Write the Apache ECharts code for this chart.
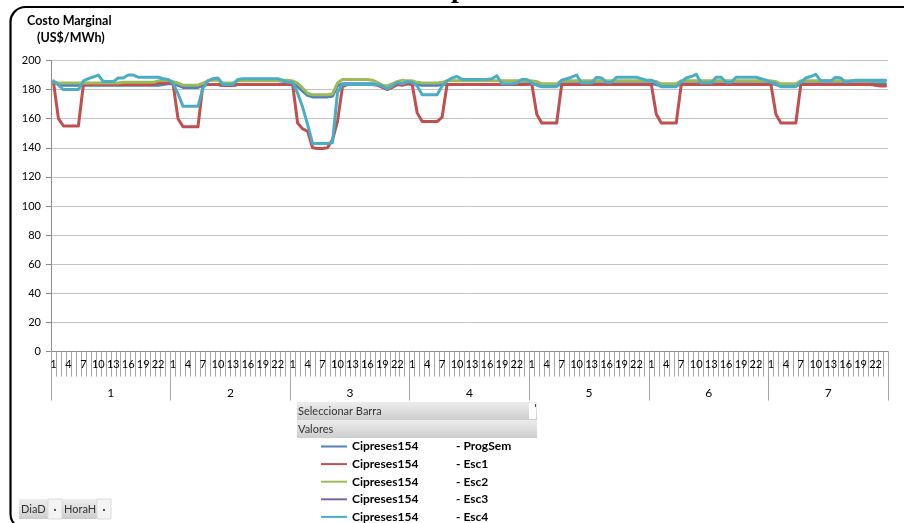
<!DOCTYPE html>
<html>
<head>
<meta charset="utf-8">
<script src="https://cdn.jsdelivr.net/npm/echarts@6/dist/echarts.min.js"></script>
<style>
  html, body { margin: 0; padding: 0; background: #ffffff; }
  #chart { width: 904px; height: 523px; }
</style>
</head>
<body>
<div id="chart"></div>
<script>
// Hour-of-day and day labels for the two-level category axis
const hours = ['1','2','3','4','5','6','7','8','9','10','11','12','13','14','15','16','17','18','19','20','21','22','23','24'];
const days = ['1','2','3','4','5','6','7'];

const seriesNames = ['Cipreses154 - ProgSem', 'Cipreses154 - Esc1', 'Cipreses154 - Esc2', 'Cipreses154 - Esc3', 'Cipreses154 - Esc4'];
const seriesColors = ['#4F81BD', '#C0504D', '#9BBB59', '#8064A2', '#4BACC6'];

// Marginal cost (US$/MWh), one row per day, 24 hourly values each
const progSem = [
  185,184,183,183,183,183,183,183,183,183,183,183,183,183,183,183,183,183,183,183,183,183,183.5,184,
  184,183,181.5,181.5,181.5,181.5,183,183.5,183.5,183.5,183,183,183,183.5,183.5,183.5,183.5,183.5,183.5,183.5,183.5,183.5,184,184,
  184.5,182,179,176,175,175,175,175,175.5,182.5,184,184,184,184,184,184,184,183.5,182,180.5,182,183.5,183.5,184,
  184,183.5,183,183,183,183,183.5,183.5,183.5,183.5,183.5,183.5,183.5,183.5,183.5,183.5,183.5,183.5,183.5,183.5,183.5,183.5,184,184,
  184,183.5,182.5,182.5,182.5,182.5,184,184,184,184,184,184,184,184,184,184,184,184,184,184,184,184,184,184,
  184,183.5,182.5,182.5,182.5,182.5,184,184,184,184,184,184,184,184,184,184,184,184,184,184,184,184,184,184,
  184,183.5,182.5,182.5,182.5,182.5,184,184,184,184,184,184,184,184,184,184,184,184,184,184,184,184,184,184
];
const esc1 = [
  185,160,155,155,155,155,183.5,183.5,183.5,183.5,183.5,183.5,183.5,183.5,183.5,183.5,183.5,183.5,183.5,183.5,183.5,184.5,184.5,184.5,
  184,160,154.5,154.5,154.5,154.5,183.5,183.5,183.5,183.5,182.8,182.8,182.8,183.5,183.5,183.5,183.5,183.5,183.5,183.5,183.5,183.5,183.5,183.5,
  183.5,157,153,151.5,140,139.5,139.5,140,145.5,158,182,183.5,183.5,183.5,183.5,183.5,183.5,183,181.5,180,181.5,183.5,183,184,
  183.5,164,158,158,158,158,161,183.5,183.5,183.5,183.5,183.5,183.5,183.5,183.5,183.5,183.5,183.5,183.5,183.5,183.5,183.5,183.5,183.5,
  184,163,157,157,157,157,183.5,183.5,183.5,183.5,183.5,183.5,183.5,183.5,183.5,183.5,183.5,183.5,183.5,183.5,183.5,183.5,183.5,183.5,
  183.5,163,157,157,157,157,183.5,183.5,183.5,183.5,183.5,183.5,183.5,183.5,183.5,183.5,183.5,183.5,183.5,183.5,183.5,183.5,183.5,183.5,
  183.5,163,157,157,157,157,183.5,183.5,183.5,183.5,183.5,183.5,183.5,183.5,183.5,183.5,183.5,183.5,183.5,183.5,183.5,183,182.5,182.5
];
const esc2 = [
  185,184.5,184.5,184.5,184.5,184.5,184.5,184.5,184.5,184.5,184.5,184.5,184.5,184.5,185,185,185,185,185,185,185,186,186.5,186.5,
  185.5,184.5,183,183,183,183,184.5,186,186.5,186.5,184.5,184.5,184.5,186,186,186,186,186,186,186,186,186,186.5,186.5,
  186,184.5,181,177.5,176.5,176.5,176.5,176.5,177,184.5,187,187,187,187,187,187,186.5,185,183,182.5,184,185.5,186.5,186,
  186,185,184.5,184.5,184.5,184.5,185,186,186,186,186,186,186,186,186,186,186,186,186,186,186,186,186,186,
  186,185.5,184,184,184,184,186,186,186,186,186,186,186,186,186,186,186,186,186,186,186,186,186,186,
  186,185.5,184,184,184,184,186,186,186,186,186,186,186,186,186,186,186,186,186,186,186,186,186,186,
  186,185.5,184,184,184,184,186,186,186,186,186,186,186,186,186,186,186,186,186,186,186,186,186,186
];
const esc3 = [];
const esc4 = [
  186,183,180,180,180,180,186,187.5,188.8,190,185.5,185.5,185.5,188,188,190,190,188.5,188.5,188.5,188.5,188.5,187.5,187,
  184.5,177,168.5,168.5,168.5,168.5,181,186,187.5,188,183.5,183.5,183.5,187,187.5,187.5,187.5,187.5,187.5,187.5,187.5,187.5,186.5,185,
  185,177.5,168,156,143,143,143,143,143.5,178,183.5,183.5,183.5,183.5,183.5,183.5,183.5,183.5,182.5,180.5,182.5,185,184,185.5,
  185,182.5,176.5,176.5,176.5,176.5,182.5,186,188,189,187,187,187,187,187,187,187.5,189.5,184,184,184,184.5,187,187,
  184.5,183,182,182,182,182,186.5,187.5,188.5,190,184.5,184.5,184.5,188.5,188,185,185,188.5,188.5,188.5,188.5,188.5,187.5,186.5,
  186.5,184.5,182,182,182,182,185.5,188,189,190.5,184.5,184.5,184.5,188.5,188.5,185,185,188.5,188.5,188.5,188.5,188.5,187.5,186.5,
  185,184,182,182,182,182,185,188,189,190.5,186,186,186,188.5,188,185,186,186.5,186.5,186.5,186.5,186.5,186.5,186.5
];
const seriesValues = [progSem, esc1, esc2, esc3, esc4];

// Category keys "day-hour" for the inner axis
const categories = [];
days.forEach(function (d) { hours.forEach(function (h) { categories.push(d + '-' + h); }); });

const FONT = 'Lato, "Open Sans", sans-serif';
const axisGray = '#8c8c8c';

const chart = echarts.init(document.getElementById('chart'), null, { renderer: 'canvas' });

function barRect(x, y, w, h) {
  return {
    type: 'rect',
    shape: { x: x, y: y, width: w, height: h },
    style: {
      fill: new echarts.graphic.LinearGradient(0, 0, 0, 1, [
        { offset: 0, color: '#ededed' },
        { offset: 1, color: '#cdcdcd' }
      ])
    },
    silent: true
  };
}
function label(x, y, text, opts) {
  return Object.assign({
    type: 'text', x: x, y: y, silent: true,
    style: { text: text, fill: '#333', font: '11px ' + FONT, verticalAlign: 'middle' }
  }, opts || {});
}

chart.setOption({
  animation: false,
  backgroundColor: '#ffffff',
  grid: { left: 51, top: 60.5, width: 837, height: 291, containLabel: false },
  legend: {
    orient: 'vertical',
    left: 321,
    top: 440.5,
    padding: 0,
    itemGap: 5.6,
    itemWidth: 26,
    itemHeight: 2,
    icon: 'rect',
    selectedMode: false,
    data: seriesNames,
    formatter: function (name) {
      const parts = name.split(' - ');
      return '{a|' + parts[0] + '}{b|- ' + parts[1] + '}';
    },
    textStyle: {
      rich: {
        a: { width: 104, fontFamily: FONT, fontWeight: 'bold', fontSize: 12, color: '#000' },
        b: { fontFamily: FONT, fontWeight: 'bold', fontSize: 12, color: '#000' }
      }
    }
  },
  xAxis: [
    {
      type: 'category',
      data: categories,
      boundaryGap: true,
      axisLine: { show: true, lineStyle: { color: axisGray, width: 1 } },
      axisTick: { show: true, interval: 0, length: 25, lineStyle: { color: '#a6a6a6' } },
      axisLabel: {
        interval: 2, margin: 7, fontSize: 11, fontFamily: FONT, color: '#000',
        formatter: function (v) { return v.split('-')[1]; }
      },
      splitLine: { show: false }
    },
    {
      type: 'category',
      data: days,
      position: 'bottom',
      boundaryGap: true,
      axisLine: { show: false },
      axisTick: { show: true, interval: 0, length: 49, lineStyle: { color: '#a6a6a6' } },
      axisLabel: { margin: 36, fontSize: 12, fontFamily: FONT, color: '#000' },
      splitLine: { show: false }
    }
  ],
  yAxis: {
    type: 'value',
    min: 0, max: 200, interval: 20,
    axisLine: { show: true, lineStyle: { color: axisGray, width: 1 } },
    axisTick: { show: true, length: 5, lineStyle: { color: axisGray } },
    axisLabel: { margin: 10, fontSize: 11, fontFamily: FONT, color: '#000' },
    splitLine: { show: true, lineStyle: { color: '#c3c3c3', width: 1 } }
  },
  series: seriesNames.map(function (name, i) {
    return {
      name: name,
      type: 'line',
      xAxisIndex: 0,
      data: seriesValues[i],
      symbol: 'none',
      smooth: false,
      color: seriesColors[i],
      lineStyle: { width: 3, color: seriesColors[i], join: 'round', cap: 'round' }
    };
  }),
  graphic: [
    // sheet title running above the chart frame
    label(451, -10, 'p', { style: { text: 'p', fill: '#000', font: 'bold 28px "Liberation Serif", serif', verticalAlign: 'middle' } }),
    // chart frame
    {
      type: 'rect', silent: true, z: 100,
      shape: { x: 10.5, y: 7, width: 930, height: 522, r: 15 },
      style: { fill: 'none', stroke: '#000', lineWidth: 2.2 }
    },
    // value axis title
    label(27, 21, 'Costo Marginal', { style: { text: 'Costo Marginal', fill: '#000', font: 'bold 12.5px ' + FONT, verticalAlign: 'middle' } }),
    label(37, 38, '(US$/MWh)', { style: { text: '(US$/MWh)', fill: '#000', font: 'bold 12.5px ' + FONT, verticalAlign: 'middle' } }),
    // pivot field bars
    barRect(297, 402, 240, 18),
    { type: 'rect', silent: true, shape: { x: 529, y: 403, width: 7, height: 16 }, style: { fill: '#ffffff' } },
    { type: 'rect', silent: true, shape: { x: 535, y: 404, width: 1, height: 3 }, style: { fill: '#444' } },
    label(298, 411.5, 'Seleccionar Barra'),
    barRect(297, 420, 240, 18),
    label(298, 429.5, 'Valores'),
    // row/column field buttons
    barRect(19, 499, 29, 20),
    label(21, 509.5, 'DiaD'),
    { type: 'rect', silent: true, shape: { x: 48, y: 499, width: 14, height: 20 }, style: { fill: '#f4f4f4', stroke: '#dcdcdc', lineWidth: 1 } },
    label(55, 509.5, '\u00B7', { style: { text: '\u00B7', fill: '#333', font: 'bold 11px ' + FONT, verticalAlign: 'middle', align: 'center' } }),
    barRect(62, 499, 35, 20),
    label(64, 509.5, 'HoraH'),
    { type: 'rect', silent: true, shape: { x: 97, y: 499, width: 14, height: 20 }, style: { fill: '#f4f4f4', stroke: '#dcdcdc', lineWidth: 1 } },
    label(104, 509.5, '\u00B7', { style: { text: '\u00B7', fill: '#333', font: 'bold 11px ' + FONT, verticalAlign: 'middle', align: 'center' } })
  ]
});
</script>
</body>
</html>
